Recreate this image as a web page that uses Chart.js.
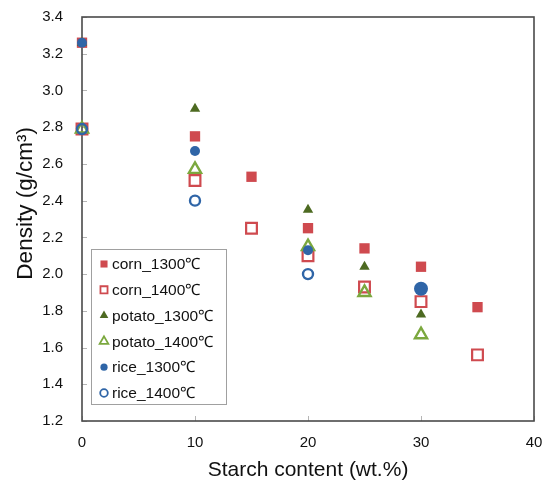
<!DOCTYPE html>
<html>
<head>
<meta charset="utf-8">
<style>
html,body{margin:0;padding:0;background:#fff;}
#wrap{width:551px;height:483px;position:relative;}
</style>
<script src="https://cdn.jsdelivr.net/npm/chart.js@4.4.1/dist/chart.umd.min.js"></script>
</head>
<body>
<div id="wrap"><canvas id="c" width="551" height="483"></canvas></div>
<script>
// ---- data ----
const seriesNames = ['corn_1300℃','corn_1400℃','potato_1300℃','potato_1400℃','rice_1300℃','rice_1400℃'];
const cornX = [0,10,15,20,25,30,35];
const corn1300 = [3.26,2.75,2.53,2.25,2.14,2.04,1.82];
const corn1400 = [2.79,2.51,2.25,2.10,1.93,1.85,1.56];
const potatoX = [0,10,20,25,30];
const potato1300 = [3.26,2.90,2.35,2.04,1.78];
const potato1400 = [2.79,2.57,2.15,1.90,1.67];
const riceX1300 = [0,10,20,30];
const rice1300 = [3.26,2.67,2.13,1.92];
const riceX1400 = [0,10,20];
const rice1400 = [2.79,2.40,2.00];
const xTicks = [0,10,20,30,40];
const yTicks = [1.2,1.4,1.6,1.8,2.0,2.2,2.4,2.6,2.8,3.0,3.2,3.4];

// ---- styles ----
const RED='#CF4A4F', DGREEN='#4D6A21', LGREEN='#7BA83E', BLUE='#2F65A7';
const FONT='"Liberation Sans", Arial, sans-serif';
const styles = [
  {pointStyle:'rect', color:RED, filled:true, r:7.3, bw:0, lr:5},
  {pointStyle:'rect', color:RED, filled:false, r:7.6, bw:2.2, lr:5},
  {pointStyle:'triangle', color:DGREEN, filled:true, r:6, bw:0, lr:5},
  {pointStyle:'triangle', color:LGREEN, filled:false, r:7, bw:2.4, lr:5},
  {pointStyle:'circle', color:BLUE, filled:true, r:5, bw:0, lr:3.6},
  {pointStyle:'circle', color:BLUE, filled:false, r:5, bw:2.4, lr:3.8}
];
const xs = [cornX, cornX, potatoX, potatoX, riceX1300, riceX1400];
const ys = [corn1300, corn1400, potato1300, potato1400, rice1300, rice1400];

function pts(x,y){ return x.map((v,i)=>({x:v,y:y[i]})); }

const datasets = seriesNames.map((name,i)=>{
  const s = styles[i];
  let radius = s.r;
  if (i===4) radius = xs[i].map(v => v===30 ? 7 : s.r);
  return {
    label:name,
    data:pts(xs[i], ys[i]),
    pointStyle:s.pointStyle,
    pointRadius:radius,
    pointHoverRadius:radius,
    pointBackgroundColor: s.filled ? s.color : 'rgba(0,0,0,0)',
    pointBorderColor: s.color,
    pointBorderWidth: s.bw,
    showLine:false,
    clip:false,
    order: 6 - i
  };
});

const framePlugin = {
  id:'frame',
  beforeDatasetsDraw(chart){
    const {ctx, chartArea:a, scales} = chart;
    ctx.save();
    ctx.strokeStyle='#b5b5b5';
    ctx.lineWidth=1;
    yTicks.forEach(v=>{
      const y=Math.round(scales.y.getPixelForValue(v))+0.5;
      ctx.beginPath(); ctx.moveTo(a.left, y); ctx.lineTo(a.left+5, y); ctx.stroke();
    });
    xTicks.forEach(v=>{
      const x=Math.round(scales.x.getPixelForValue(v))+0.5;
      ctx.beginPath(); ctx.moveTo(x, a.bottom); ctx.lineTo(x, a.bottom-5); ctx.stroke();
    });
    ctx.strokeStyle='#4a4a4a';
    ctx.lineWidth=1.6;
    ctx.strokeRect(a.left, a.top, a.right-a.left, a.bottom-a.top);
    ctx.restore();
  }
};

const legendPlugin = {
  id:'innerLegend',
  afterDatasetsDraw(chart){
    const {ctx, chartArea:a} = chart;
    const left=a.left+9, top=a.top+232, w=135, h=155;
    ctx.save();
    ctx.fillStyle='#fff';
    ctx.fillRect(left, top, w, h);
    ctx.strokeStyle='#a0a0a0';
    ctx.lineWidth=1;
    ctx.strokeRect(left+0.5, top+0.5, w, h);
    seriesNames.forEach((name,i)=>{
      const s=styles[i];
      const cy=top+15+i*25.8;
      const cx=left+13;
      ctx.fillStyle = s.filled ? s.color : 'rgba(0,0,0,0)';
      ctx.strokeStyle = s.color;
      ctx.lineWidth = s.filled ? 0 : 1.8;
      Chart.helpers.drawPoint(ctx, {pointStyle:s.pointStyle, radius:s.lr, borderWidth: s.filled?0:1.8, rotation:0}, cx, cy);
      ctx.fillStyle='#111';
      ctx.font='15.5px '+FONT;
      ctx.textAlign='left';
      ctx.textBaseline='middle';
      ctx.fillText(name, left+21, cy+1);
    });
    ctx.restore();
  }
};

new Chart(document.getElementById('c'), {
  type:'scatter',
  data:{datasets},
  options:{
    responsive:false,
    animation:false,
    events:[],
    layout:{padding:{top:17,right:17,left:0,bottom:0}},
    plugins:{legend:{display:false}, tooltip:{enabled:false}},
    scales:{
      x:{
        type:'linear', min:0, max:40,
        afterBuildTicks(s){ s.ticks = xTicks.map(v=>({value:v})); },
        afterFit(s){ s.height = 62; s.paddingLeft = 0; s.paddingRight = 0; },
        grid:{display:false, drawTicks:false},
        border:{display:false},
        ticks:{font:{family:FONT,size:15}, color:'#111', padding:13},
        title:{display:true, text:'Starch content (wt.%)', color:'#111', font:{family:FONT,size:21}, padding:{top:0,bottom:0}}
      },
      y:{
        type:'linear', min:1.2, max:3.4,
        afterBuildTicks(s){ s.ticks = yTicks.map(v=>({value:v})); },
        afterFit(s){ s.width = 82; s.paddingTop = 0; s.paddingBottom = 0; },
        grid:{display:false, drawTicks:false},
        border:{display:false},
        ticks:{font:{family:FONT,size:15}, color:'#111', padding:19, callback:v=>Number(v).toFixed(1)},
        title:{display:true, text:'     Density (g/cm³)', color:'#111', font:{family:FONT,size:22.5}, padding:{top:12,bottom:0}}
      }
    }
  },
  plugins:[framePlugin, legendPlugin]
});
</script>
</body>
</html>
